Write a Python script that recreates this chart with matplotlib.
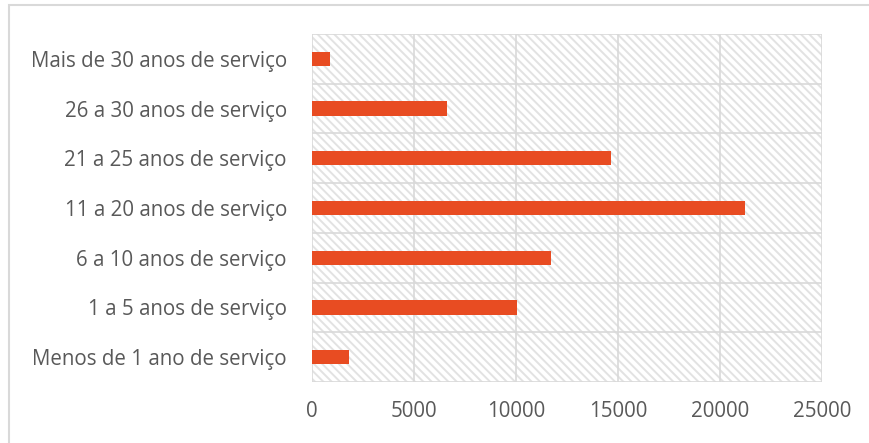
import numpy as np
import matplotlib.pyplot as plt
from matplotlib.patches import Rectangle

categorias = ["Menos de 1 ano de serviço", "1 a 5 anos de serviço", "6 a 10 anos de serviço",
              "11 a 20 anos de serviço", "21 a 25 anos de serviço", "26 a 30 anos de serviço",
              "Mais de 30 anos de serviço"]
valores = [1800, 10030, 11720, 21220, 14650, 6620, 870]
xticks = [0, 5000, 10000, 15000, 20000, 25000]

plt.rcParams['font.family'] = ['Open Sans', 'DejaVu Sans']
plt.rcParams['hatch.linewidth'] = 1.4

fig = plt.figure(figsize=(8.7, 4.43), dpi=100)
ax = fig.add_axes([312/870, 1-382/443, 510/870, 348/443])

grid = '#D9D9D9'
# fundo tracejado da área do gráfico
ax.add_patch(Rectangle((0, -0.5), 25000, len(categorias), facecolor='white', edgecolor='#E2E2E2',
                       lw=0, hatch='\\\\\\\\', zorder=0))
y = np.arange(len(categorias))
ax.barh(y, valores, height=0.29, color='#E84C22', zorder=3)

ax.set_xlim(0, 25000)
ax.set_ylim(-0.5, len(categorias) - 0.5)
ax.set_xticks(xticks)
ax.set_yticks(y)
ax.set_yticklabels(categorias)
for v in xticks:
    ax.axvline(v, color=grid, lw=1.2, zorder=1)
for b in np.arange(-0.5, len(categorias), 1):
    ax.axhline(b, color=grid, lw=1.2, zorder=1)
for s in ax.spines.values():
    s.set_visible(False)
ax.tick_params(length=0, labelsize=14.8, labelcolor='#595959')
ax.tick_params(axis='x', pad=14)
ax.tick_params(axis='y', pad=18)

fig.patches.append(Rectangle((9/870, -0.1), 1.0, 1 - 5/443 + 0.1, transform=fig.transFigure,
                             facecolor='none', edgecolor=grid, lw=1.5))

fig.savefig('out.png', dpi=100)
